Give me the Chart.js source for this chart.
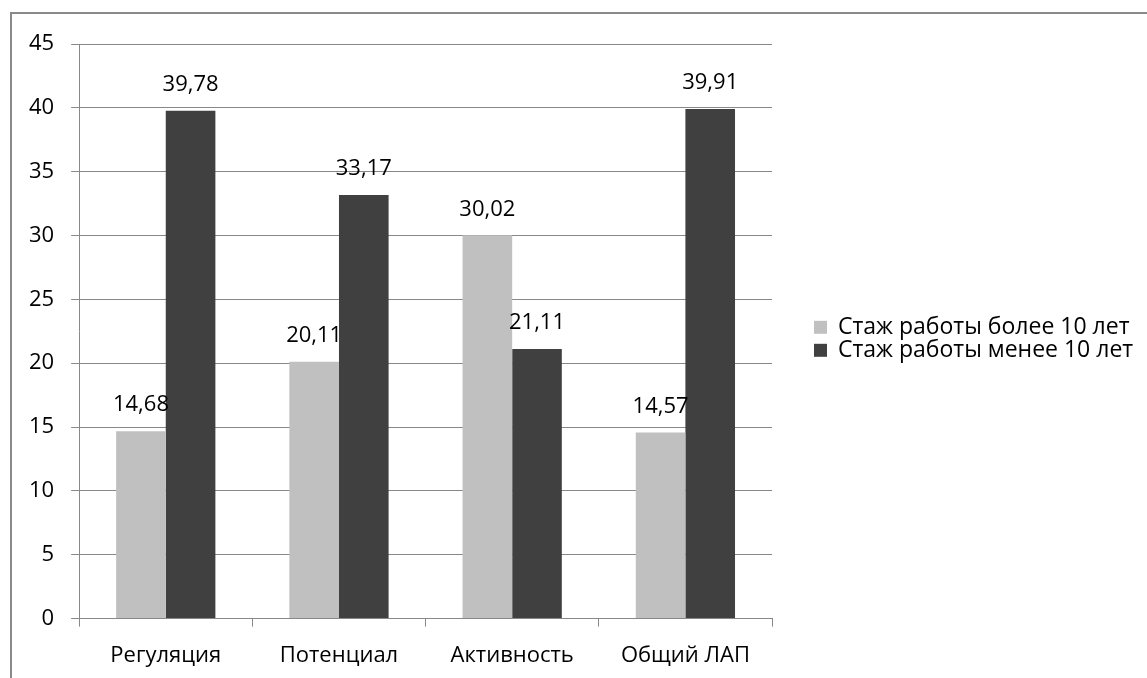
<!DOCTYPE html>
<html>
<head>
<meta charset="utf-8">
<script src="https://cdn.jsdelivr.net/npm/chart.js@4/dist/chart.umd.min.js"></script>
<style>
    body { margin: 0; background: #fff; }
    #frame {
        position: absolute; left: 10px; top: 12px; width: 1137px; height: 666px;
        border-top: 2px solid #8a8a8a; border-left: 2px solid #8a8a8a;
    }
    #wrap { position: absolute; left: 0; top: 0; width: 1147px; height: 678px; }
</style>
</head>
<body>
<div id="frame"></div>
<div id="wrap"><canvas id="chart"></canvas></div>
<script>
// данные диаграммы
const categories = ["Регуляция", "Потенциал", "Активность", "Общий ЛАП"];
const seriesNames = ["Стаж работы более 10 лет", "Стаж работы менее 10 лет"];
const over10 = [14.68, 20.11, 30.02, 14.57];
const under10 = [39.78, 33.17, 21.11, 39.91];

const FONT = "'Open Sans', sans-serif";
const SIZE = 22;

// подписи значений над столбцами
const valueLabels = {
    id: "valueLabels",
    afterDatasetsDraw(chart) {
        const c = chart.ctx;
        c.save();
        c.font = SIZE + "px " + FONT;
        c.fillStyle = "#000";
        c.textAlign = "center";
        c.textBaseline = "middle";
        chart.data.datasets.forEach((ds, i) => {
            chart.getDatasetMeta(i).data.forEach((bar, j) => {
                c.fillText(ds.data[j].toFixed(2).replace(".", ","), bar.x, bar.y - 26);
            });
        });
        c.restore();
    }
};

// легенда справа (встроенная легенда не может быть такой широкой)
const sideLegend = {
    id: "sideLegend",
    afterDraw(chart) {
        const c = chart.ctx;
        const area = chart.chartArea;
        const x = area.right + 42;
        const mid = (area.top + area.bottom) / 2 + 8;
        const step = 23;
        c.save();
        c.font = "23px " + FONT;
        c.textBaseline = "middle";
        c.textAlign = "left";
        chart.data.datasets.forEach((ds, i) => {
            const y = mid + (i - (chart.data.datasets.length - 1) / 2) * step;
            c.fillStyle = ds.backgroundColor;
            c.fillRect(x, y - 7, 13, 13);
            c.fillStyle = "#000";
            c.fillText(ds.label, x + 24, y);
        });
        c.restore();
    }
};

const ctx = document.getElementById("chart").getContext("2d");
new Chart(ctx, {
    type: "bar",
    data: {
        labels: categories,
        datasets: [
            { label: seriesNames[0], data: over10, backgroundColor: "#c0c0c0" },
            { label: seriesNames[1], data: under10, backgroundColor: "#404040" }
        ]
    },
    options: {
        responsive: true,
        maintainAspectRatio: false,
        animation: false,
        categoryPercentage: 0.573,
        barPercentage: 1,
        layout: { padding: { top: 44, left: 12, right: 375, bottom: -7 } },
        plugins: {
            tooltip: { enabled: false },
            legend: { display: false }
        },
        scales: {
            x: {
                grid: { drawOnChartArea: false, offset: true, tickLength: 8, color: "#888" },
                border: { color: "#888" },
                ticks: { color: "#000", padding: 16, font: { family: FONT, size: SIZE } }
            },
            y: {
                min: 0, max: 45,
                ticks: { stepSize: 5, color: "#000", padding: 17, font: { family: FONT, size: SIZE } },
                grid: { color: "#888", tickLength: 8 },
                border: { color: "#888" }
            }
        }
    },
    plugins: [valueLabels, sideLegend]
});
</script>
</body>
</html>
